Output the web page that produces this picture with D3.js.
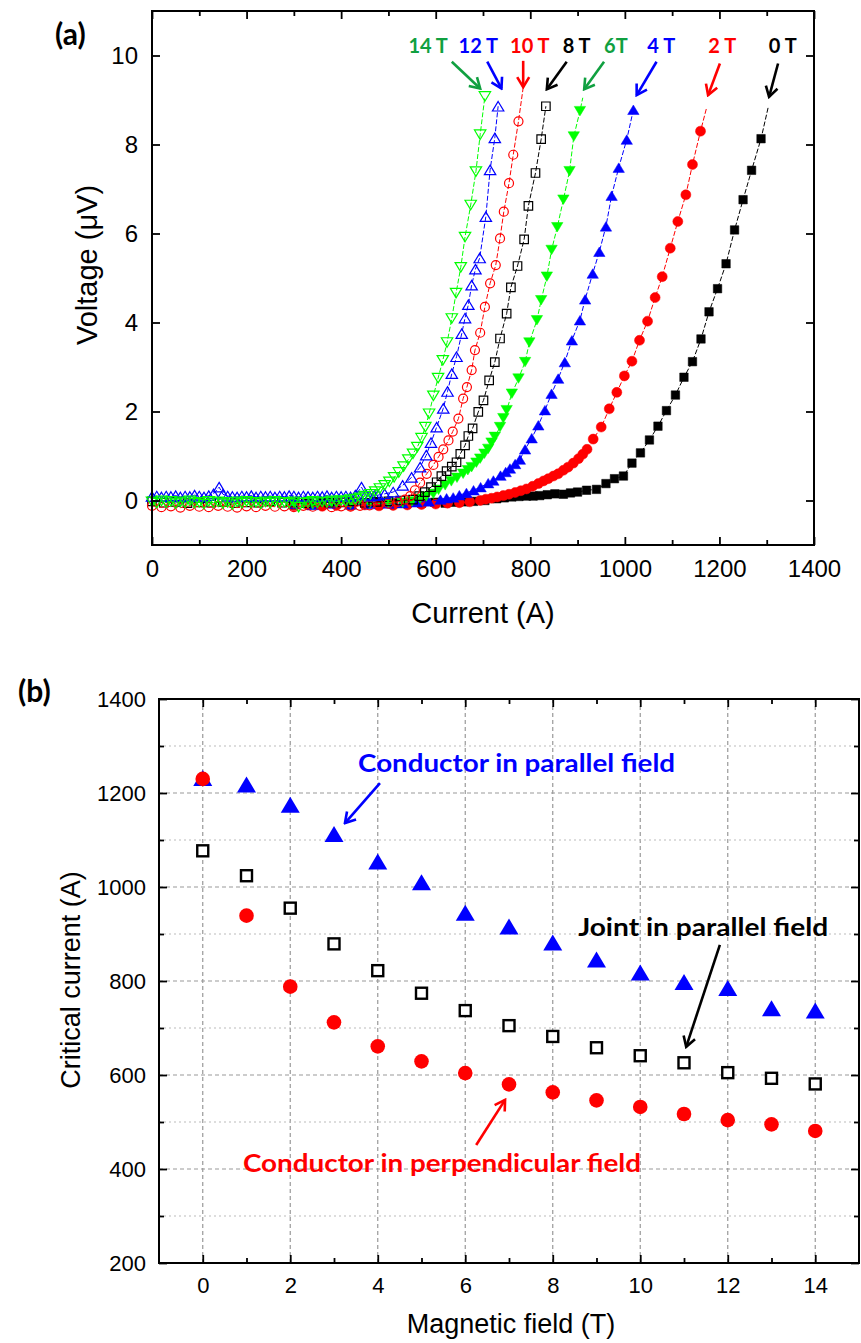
<!DOCTYPE html>
<html>
<head>
<meta charset="utf-8">
<script src="https://cdn.jsdelivr.net/npm/d3@7"></script>
<style>
  body { margin: 0; background: #fff; }
  svg { display: block; }
  .note { font-family: Lato, 'Open Sans', sans-serif; font-weight: 700; }
</style>
</head>
<body>
<div class="chart"></div>
<script>
// ---- panel (a): V-I curves, [current A, voltage uV] ----
const v0T = [[300,-0.05],[330,-0.06],[360,-0.04],[390,-0.07],[420,-0.05],[450,-0.06],[480,-0.04],[510,-0.06],[540,-0.05],[570,-0.06],
  [598,-0.04],[620,-0.06],[640,-0.04],[660,-0.03],[680,-0.02],[704,0.0],[729,0.04],[745,0.06],[761,0.08],[776,0.09],[792,0.1],[806,0.1],
  [820,0.11],[836,0.13],[852,0.15],[870,0.14],[885,0.17],[900,0.19],[919,0.23],[940,0.25],[960,0.38],[978,0.49],[997,0.55],[1015,0.84],
  [1033,1.07],[1052,1.36],[1070,1.67],[1088,2.02],[1107,2.37],[1125,2.77],[1143,3.12],[1161,3.63],[1178,4.24],[1196,4.76],[1214,5.32],
  [1232,6.08],[1250,6.76],[1268,7.42],[1288,8.13],[1303,8.83]];
const v2T = [[300,-0.12],[330,-0.1],[360,-0.13],[390,-0.11],[420,-0.12],[450,-0.1],[480,-0.12],[510,-0.11],[540,-0.1],[570,-0.09],
  [600,-0.08],[625,-0.06],[650,-0.05],[672,-0.03],[694,0.0],[706,0.03],[718,0.05],[730,0.08],[743,0.11],[755,0.14],[768,0.18],[780,0.22],
  [792,0.26],[805,0.32],[817,0.38],[828,0.44],[838,0.49],[849,0.55],[859,0.6],[870,0.68],[880,0.75],[891,0.84],[902,0.94],[911,1.04],
  [920,1.15],[933,1.38],[950,1.65],[967,2.06],[983,2.43],[999,2.8],[1015,3.13],[1031,3.6],[1048,4.03],[1064,4.56],[1079,5.03],[1096,5.67],
  [1112,6.27],[1129,6.87],[1143,7.55],[1160,8.3],[1173,8.83]];
const v4T = [[300,-0.08],[340,-0.1],[380,-0.07],[420,-0.09],[460,-0.08],[500,-0.07],[530,-0.06],[560,-0.04],[585,-0.02],[610,0.02],
  [623,0.05],[637,0.07],[650,0.12],[665,0.17],[680,0.23],[695,0.3],[711,0.39],[722,0.45],[737,0.56],[748,0.64],[757,0.72],[768,0.82],
  [778,0.92],[789,1.15],[803,1.4],[817,1.69],[831,2.03],[845,2.4],[859,2.74],[873,3.11],[888,3.6],[905,4.05],[916,4.52],[932,5.1],
  [946,5.59],[960,6.16],[972,6.85],[987,7.48],[1004,8.11],[1018,8.78]];
const v6T = [[300,-0.07],[340,-0.09],[380,-0.06],[420,-0.08],[460,-0.07],[500,-0.06],[530,-0.05],[550,-0.02],[567,0.04],[580,0.09],
  [595,0.15],[606,0.24],[620,0.34],[633,0.43],[645,0.51],[658,0.6],[668,0.68],[676,0.75],[686,0.85],[694,0.94],[703,1.05],[711,1.16],
  [718,1.3],[725,1.43],[736,1.65],[743,1.85],[750,2.03],[761,2.4],[775,2.74],[789,3.11],[798,3.55],[814,4.05],[823,4.5],[835,5.03],
  [845,5.63],[857,6.14],[870,6.76],[883,7.4],[892,8.18],[905,8.75],[911,9.05]];
const v8T = [[0,-0.02],[25,-0.05],[50,-0.03],[75,-0.06],[100,-0.04],[125,-0.05],[150,-0.03],[175,-0.06],[200,-0.04],[225,-0.05],
  [250,-0.02],[275,-0.05],[300,-0.04],[325,-0.06],[350,-0.03],[375,-0.05],[400,-0.04],[425,-0.02],[450,-0.05],[475,-0.03],[500,-0.02],
  [525,0.0],[552,0.02],[565,0.1],[577,0.19],[590,0.3],[602,0.41],[612,0.55],[623,0.66],[634,0.76],[644,0.86],[652,1.05],[662,1.24],
  [669,1.45],[678,1.62],[690,1.99],[701,2.25],[713,2.7],[725,3.11],[736,3.64],[750,4.2],[759,4.79],[773,5.27],[787,5.87],[796,6.62],
  [811,7.36],[823,8.12],[833,8.86]];
const v10T = [[0,-0.12],[20,-0.15],[40,-0.13],[60,-0.16],[80,-0.12],[100,-0.14],[120,-0.15],[140,-0.12],[160,-0.14],[180,-0.16],
  [200,-0.13],[220,-0.15],[240,-0.12],[260,-0.14],[280,-0.13],[300,-0.15],[320,-0.12],[340,-0.14],[360,-0.12],[380,-0.15],[400,-0.13],
  [420,-0.14],[440,-0.12],[460,-0.11],[480,-0.09],[500,-0.07],[520,-0.03],[535,0.02],[546,0.1],[556,0.23],[567,0.4],[581,0.6],[595,0.8],
  [606,0.98],[616,1.15],[627,1.35],[636,1.55],[648,1.84],[658,2.29],[666,2.55],[676,2.93],[683,3.38],[694,3.77],[704,4.35],[715,4.88],
  [727,5.29],[736,5.89],[744,6.49],[755,7.13],[764,7.77],[775,8.52],[785,9.28]];
const v12T = [[0,0.09],[10,0.1],[20,0.08],[30,0.1],[40,0.09],[50,0.11],[60,0.08],[70,0.1],[80,0.09],[90,0.12],[100,0.1],[110,0.08],
  [120,0.11],[130,0.15],[142,0.3],[150,0.14],[160,0.1],[170,0.09],[180,0.08],[190,0.1],[200,0.09],[210,0.11],[220,0.08],[230,0.1],
  [240,0.09],[250,0.1],[260,0.08],[270,0.1],[280,0.09],[290,0.11],[300,0.1],[310,0.08],[320,0.1],[330,0.09],[340,0.08],[350,0.1],
  [360,0.09],[370,0.11],[380,0.08],[390,0.1],[400,0.09],[410,0.1],[420,0.08],[430,0.12],[443,0.3],[452,0.13],[460,0.1],[470,0.11],
  [478,0.12],[492,0.15],[510,0.19],[530,0.34],[549,0.52],[567,0.75],[580,1.02],[590,1.3],[602,1.65],[616,2.07],[625,2.45],[634,2.85],
  [644,3.23],[655,3.75],[662,4.1],[669,4.4],[676,4.84],[684,5.2],[693,5.45],[706,6.38],[715,7.43],[725,8.15],[732,8.86]];
const v14T = [[0,-0.03],[10,-0.06],[20,-0.01],[30,-0.05],[40,-0.02],[50,-0.07],[60,-0.03],[70,-0.05],[80,-0.01],[90,-0.06],[100,-0.04],
  [110,-0.08],[120,-0.02],[130,-0.05],[140,-0.03],[150,-0.07],[160,-0.04],[170,-0.09],[180,-0.03],[190,-0.06],[200,-0.02],[210,-0.05],
  [220,-0.04],[230,-0.07],[240,-0.03],[250,-0.06],[260,-0.02],[270,-0.05],[280,-0.04],[290,-0.06],[300,-0.03],[310,-0.15],[320,-0.06],
  [330,-0.04],[340,-0.02],[350,-0.05],[360,-0.03],[370,-0.04],[380,-0.01],[390,-0.03],[400,0.0],[410,-0.02],[420,0.02],[430,0.03],
  [440,0.06],[450,0.1],[462,0.14],[472,0.2],[482,0.27],[492,0.34],[502,0.42],[512,0.52],[522,0.63],[532,0.76],[542,0.92],[552,1.05],
  [561,1.2],[570,1.4],[578,1.65],[586,1.95],[595,2.35],[605,2.75],[615,3.15],[624,3.55],[634,4.09],[643,4.66],[653,5.24],[662,5.92],
  [674,6.64],[685,7.39],[694,8.22],[704,9.08]];

const currentTicks = [0, 200, 400, 600, 800, 1000, 1200, 1400];
const currentMinor = [100, 300, 500, 700, 900, 1100, 1300];
const voltageTicks = [0, 2, 4, 6, 8, 10];

// label text, label position [I, V], arrow [I1, V1, I2, V2]
const fieldLabels = ['0 T', '2 T', '4 T', '6T', '8 T', '10 T', '12 T', '14 T'];
const labelPos = [[1334, 10.06], [1206, 10.06], [1077, 10.06], [981, 10.06], [898, 10.06], [799, 10.06], [690, 10.06], [584, 10.06]];
const labelArrows = [[1324, 9.82, 1305, 9.07], [1201, 9.82, 1176, 9.11], [1067, 9.86, 1025, 9.11], [956, 9.86, 914, 9.24],
  [877, 9.86, 835, 9.24], [785, 9.88, 785, 9.29], [709, 9.86, 739, 9.26], [634, 9.86, 694, 9.26]];

// ---- panel (b): critical current vs field ----
const fieldT = [0, 1, 2, 3, 4, 5, 6, 7, 8, 9, 10, 11, 12, 13, 14];
const icCondParallel = [1232, 1218, 1175, 1113, 1054, 1010, 945, 916, 882, 846, 818, 798, 785, 742, 737];
const icJointParallel = [1077, 1024, 955, 879, 822, 774, 737, 705, 682, 658, 641, 626, 605, 593, 581];
const icCondPerp = [1230, 939, 788, 712, 661, 629, 604, 580, 563, 546, 532, 517, 504, 495, 481];

const fieldTicks = [0, 2, 4, 6, 8, 10, 12, 14];
const fieldMinor = [1, 3, 5, 7, 9, 11, 13];
const icTicks = [200, 400, 600, 800, 1000, 1200, 1400];
const icMinor = [300, 500, 700, 900, 1100, 1300];

const notesB = [
  { text: 'Conductor in parallel field', at: [3.55, 1245], arrow: [4.05, 1221, 3.25, 1136], color: '#0000ff', len: 317 },
  { text: 'Joint in parallel field', at: [8.58, 896], arrow: [11.82, 877, 11.05, 660], color: '#000000', len: 250 },
  { text: 'Conductor in perpendicular field', at: [0.92, 394], arrow: [6.25, 451, 6.91, 547], color: '#ff0000', len: 398 }
];

const GREEN = '#00ff00', DKGREEN = '#10a040', BLUE = '#0000ff', RED = '#ff0000', BLACK = '#000000';
const ARIAL = "'Liberation Sans', Arial, sans-serif";

let svg = d3.select('.chart').append('svg').attr('width', 861).attr('height', 1343);

// arrow heads
let defs = svg.append('defs');
[['k', BLACK], ['r', RED], ['b', BLUE], ['g', DKGREEN]].forEach(function (m) {
  defs.append('marker').attr('id', 'head-' + m[0])
    .attr('viewBox', '-12 -8 14 16').attr('refX', 0).attr('refY', 0)
    .attr('markerWidth', 14).attr('markerHeight', 16).attr('markerUnits', 'userSpaceOnUse')
    .attr('orient', 'auto')
    .append('path').attr('d', 'M-10,-6 L0,0 L-10,6').attr('fill', 'none')
    .attr('stroke', m[1]).attr('stroke-width', 2.6);
});
function headId(color) {
  return color === RED ? 'url(#head-r)' : color === BLUE ? 'url(#head-b)' : color === DKGREEN ? 'url(#head-g)' : 'url(#head-k)';
}

function shapePath(shape, s) {
  let w = s * 0.6;
  if (shape === 'square') return `M${-s / 2},${-s / 2}h${s}v${s}h${-s}Z`;
  if (shape === 'circle') return d3.symbol(d3.symbolCircle, Math.PI * (s / 2) * (s / 2))();
  if (shape === 'up') return `M0,${-s / 2}L${w},${s / 2}L${-w},${s / 2}Z`;
  return `M0,${s / 2}L${w},${-s / 2}L${-w},${-s / 2}Z`;
}

function frame(x, y) {
  svg.append('rect').attr('x', x.range()[0]).attr('y', y.range()[1])
    .attr('width', x.range()[1] - x.range()[0]).attr('height', y.range()[0] - y.range()[1])
    .attr('fill', 'none').attr('stroke', '#000').attr('stroke-width', 2);
}

function ticks(x, y, xMajor, xMinor, yMajor, yMinor, fs, padX, padY) {
  let x0 = x.range()[0], x1 = x.range()[1], y0 = y.range()[0], y1 = y.range()[1];
  let fmt = d3.format('d');
  let gb = svg.append('g').attr('transform', `translate(0,${y0})`)
    .call(d3.axisBottom(x).tickValues(xMajor).tickSize(-8).tickPadding(padX).tickFormat(fmt));
  gb.selectAll('text').attr('font-size', fs).attr('font-family', ARIAL);
  svg.append('g').attr('transform', `translate(0,${y0})`)
    .call(d3.axisBottom(x).tickValues(xMinor).tickSize(-5).tickFormat(''));
  svg.append('g').attr('transform', `translate(0,${y1})`)
    .call(d3.axisTop(x).tickValues(xMajor).tickSize(-8).tickFormat(''));
  svg.append('g').attr('transform', `translate(0,${y1})`)
    .call(d3.axisTop(x).tickValues(xMinor).tickSize(-5).tickFormat(''));
  let gl = svg.append('g').attr('transform', `translate(${x0},0)`)
    .call(d3.axisLeft(y).tickValues(yMajor).tickSize(-8).tickPadding(padY).tickFormat(fmt));
  gl.selectAll('text').attr('font-size', fs).attr('font-family', ARIAL);
  svg.append('g').attr('transform', `translate(${x1},0)`)
    .call(d3.axisRight(y).tickValues(yMajor).tickSize(-8).tickFormat(''));
  if (yMinor.length) {
    svg.append('g').attr('transform', `translate(${x0},0)`)
      .call(d3.axisLeft(y).tickValues(yMinor).tickSize(-5).tickFormat(''));
    svg.append('g').attr('transform', `translate(${x1},0)`)
      .call(d3.axisRight(y).tickValues(yMinor).tickSize(-5).tickFormat(''));
  }
  svg.selectAll('.domain').remove();
  svg.selectAll('.tick line').attr('stroke-width', 1.8);
}

// ================= panel (a) =================
let xA = d3.scaleLinear().domain([0, 1400]).range([152, 814]);
let yA = d3.scaleLinear().domain([-1, 11]).range([545, 11]);

const seriesA = [
  { data: v0T, color: BLACK, shape: 'square', filled: true, size: 8.5, tail: true },
  { data: v2T, color: RED, shape: 'circle', filled: true, size: 10, tail: true },
  { data: v4T, color: BLUE, shape: 'up', filled: true, size: 9.5, tail: false },
  { data: v6T, color: GREEN, shape: 'down', filled: true, size: 9.5, tail: true },
  { data: v8T, color: BLACK, shape: 'square', filled: false, size: 8.5, tail: false },
  { data: v10T, color: RED, shape: 'circle', filled: false, size: 9, tail: true },
  { data: v12T, color: BLUE, shape: 'up', filled: false, size: 9.5, tail: false },
  { data: v14T, color: GREEN, shape: 'down', filled: false, size: 9.5, tail: false }
];

let lineA = d3.line().x(d => xA(d[0])).y(d => yA(d[1]));

seriesA.forEach(function (s) {
  let g = svg.append('g');
  g.append('path').datum(s.data).attr('d', lineA).attr('fill', 'none')
    .attr('stroke', s.color).attr('stroke-width', 1).attr('stroke-dasharray', '5,2');
  let pts = s.tail ? s.data.slice(0, -1) : s.data;
  g.selectAll('path.pt').data(pts).enter().append('path').attr('class', 'pt')
    .attr('d', shapePath(s.shape, s.size))
    .attr('transform', d => `translate(${xA(d[0])},${yA(d[1])})`)
    .attr('fill', s.filled ? s.color : 'none')
    .attr('stroke', s.color).attr('stroke-width', s.filled ? 0.5 : 1.2);
});

frame(xA, yA);
ticks(xA, yA, currentTicks, currentMinor, voltageTicks, [], 24, 15, 14);

const labelColors = [BLACK, RED, BLUE, DKGREEN, BLACK, RED, BLUE, DKGREEN];
fieldLabels.forEach(function (t, i) {
  svg.append('text').attr('class', 'note').attr('x', xA(labelPos[i][0])).attr('y', yA(labelPos[i][1]))
    .attr('text-anchor', 'middle').attr('font-size', 20).attr('fill', labelColors[i]).text(t);
  let a = labelArrows[i];
  svg.append('line').attr('x1', xA(a[0])).attr('y1', yA(a[1])).attr('x2', xA(a[2])).attr('y2', yA(a[3]))
    .attr('stroke', labelColors[i]).attr('stroke-width', 2.6).attr('marker-end', headId(labelColors[i]));
});

svg.append('text').attr('class', 'note').attr('x', 55).attr('y', 45).attr('font-size', 30).text('(a)');
svg.append('text').attr('x', 483).attr('y', 623).attr('text-anchor', 'middle')
  .attr('font-family', ARIAL).attr('font-size', 29).text('Current (A)');
svg.append('text').attr('transform', 'translate(97,265) rotate(-90)').attr('text-anchor', 'middle')
  .attr('font-family', ARIAL).attr('font-size', 29).text('Voltage (μV)');

// ================= panel (b) =================
let xB = d3.scaleLinear().domain([-1, 15]).range([159, 859]);
let yB = d3.scaleLinear().domain([200, 1400]).range([1263, 699]);

let grid = svg.append('g');
grid.selectAll('line.v').data(fieldTicks).enter().append('line')
  .attr('x1', d => xB(d)).attr('x2', d => xB(d)).attr('y1', yB(1400)).attr('y2', yB(200))
  .attr('stroke', '#999').attr('stroke-width', 1.2).attr('stroke-dasharray', '4,3');
grid.selectAll('line.h').data(icTicks.slice(1, -1)).enter().append('line')
  .attr('x1', xB(-1)).attr('x2', xB(15)).attr('y1', d => yB(d)).attr('y2', d => yB(d))
  .attr('stroke', '#999').attr('stroke-width', 1.2).attr('stroke-dasharray', '4,3');
grid.selectAll('line.hm').data(icMinor).enter().append('line')
  .attr('x1', xB(-1)).attr('x2', xB(15)).attr('y1', d => yB(d)).attr('y2', d => yB(d))
  .attr('stroke', '#bbb').attr('stroke-width', 1.2).attr('stroke-dasharray', '2,3');

frame(xB, yB);
ticks(xB, yB, fieldTicks, fieldMinor, icTicks, icMinor, 22, 14, 13);

let pb = svg.append('g');
pb.selectAll('path.tri').data(fieldT).enter().append('path')
  .attr('d', `M0,-8L9.5,8L-9.5,8Z`)
  .attr('transform', (d, i) => `translate(${xB(d)},${yB(icCondParallel[i])})`).attr('fill', BLUE);
pb.selectAll('rect.sq').data(fieldT).enter().append('rect')
  .attr('x', d => xB(d) - 5.5).attr('y', (d, i) => yB(icJointParallel[i]) - 5.5)
  .attr('width', 11).attr('height', 11).attr('fill', '#fff').attr('stroke', BLACK).attr('stroke-width', 2.4);
pb.selectAll('circle.ci').data(fieldT).enter().append('circle')
  .attr('cx', d => xB(d)).attr('cy', (d, i) => yB(icCondPerp[i])).attr('r', 7.3).attr('fill', RED);

notesB.forEach(function (n) {
  svg.append('text').attr('class', 'note').attr('x', xB(n.at[0])).attr('y', yB(n.at[1]))
    .attr('font-size', 25).attr('fill', n.color).attr('textLength', n.len)
    .attr('lengthAdjust', 'spacingAndGlyphs').text(n.text);
  svg.append('line').attr('x1', xB(n.arrow[0])).attr('y1', yB(n.arrow[1]))
    .attr('x2', xB(n.arrow[2])).attr('y2', yB(n.arrow[3]))
    .attr('stroke', n.color).attr('stroke-width', 2.6).attr('marker-end', headId(n.color));
});

svg.append('text').attr('class', 'note').attr('x', 18).attr('y', 702).attr('font-size', 30).text('(b)');
svg.append('text').attr('x', 511).attr('y', 1333).attr('text-anchor', 'middle')
  .attr('font-family', ARIAL).attr('font-size', 27).text('Magnetic field (T)');
svg.append('text').attr('transform', 'translate(80,980) rotate(-90)').attr('text-anchor', 'middle')
  .attr('font-family', ARIAL).attr('font-size', 27).text('Critical current (A)');
</script>
</body>
</html>
